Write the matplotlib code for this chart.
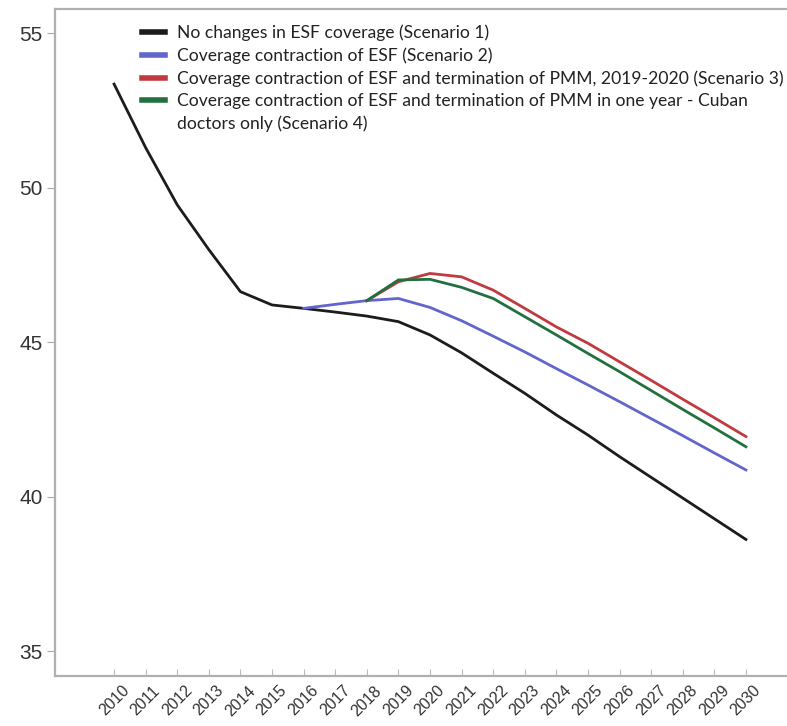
import numpy as np
import matplotlib
matplotlib.use("Agg")
import matplotlib.pyplot as plt
from matplotlib.lines import Line2D

# ── data ─────────────────────────────────────────────────────────────────────
years_s1 = list(range(2010, 2031))
years_s2 = list(range(2016, 2031))
years_s34 = list(range(2018, 2031))

scenario1 = [53.36, 51.30, 49.45, 48.00, 46.64, 46.21, 46.10, 45.98, 45.85, 45.67,
             45.24, 44.66, 44.00, 43.35, 42.65, 42.00, 41.30, 40.63, 39.96, 39.29, 38.62]
scenario2 = [46.10, 46.23, 46.35, 46.42, 46.13, 45.70, 45.20, 44.69, 44.15, 43.62,
             43.08, 42.53, 41.98, 41.42, 40.87]
scenario3 = [46.35, 46.96, 47.23, 47.12, 46.69, 46.10, 45.50, 44.97, 44.37, 43.77,
             43.16, 42.56, 41.95]
scenario4 = [46.35, 47.02, 47.04, 46.78, 46.42, 45.83, 45.24, 44.64, 44.05, 43.44,
             42.83, 42.23, 41.62]

labels = [
    "No changes in ESF coverage (Scenario 1)",
    "Coverage contraction of ESF (Scenario 2)",
    "Coverage contraction of ESF and termination of PMM, 2019-2020 (Scenario 3)",
    "Coverage contraction of ESF and termination of PMM in one year - Cuban",
]
label_cont = "doctors only (Scenario 4)"
colors = ["#1c1c1c", "#6266cc", "#c03a40", "#23703f"]

# ── plot ─────────────────────────────────────────────────────────────────────
fig = plt.figure(figsize=(7.87, 7.26), dpi=100)
ax = fig.add_axes([55 / 787, 50 / 726, 732 / 787, 667 / 726])

series = [(years_s1, scenario1), (years_s2, scenario2),
          (years_s34, scenario3), (years_s34, scenario4)]
for (x, y), c in zip(series, colors):
    ax.plot(x, y, color=c, linewidth=2.0, solid_joinstyle="round")

ax.set_xlim(2008.13, 2031.3)
ax.set_ylim(34.2, 55.79)
ax.set_xticks(years_s1)
ax.set_xticklabels([str(y) for y in years_s1], rotation=45, ha="center",
                   fontsize=11.5, color="#333333", family="Liberation Sans")
ax.set_yticks([35, 40, 45, 50, 55])
ax.set_yticklabels(["35", "40", "45", "50", "55"], fontsize=15, color="#333333",
                   family="Liberation Sans")

ax.tick_params(axis="y", direction="out", length=6, color="#aaaaaa", width=0.8, pad=3)
ax.tick_params(axis="x", direction="in", length=5, color="#bbbbbb", width=0.8, pad=5)
for side in ["left", "bottom", "top"]:
    ax.spines[side].set_color("#b0b0b0")
    ax.spines[side].set_linewidth(1.6)
ax.spines["right"].set_visible(False)

handles = [Line2D([], [], color=c, linewidth=4) for c in colors]
handles.append(Line2D([], [], color="none", linewidth=0))
leg = ax.legend(handles, labels + [label_cont], loc="upper left",
                bbox_to_anchor=(0.098, 1.0), frameon=False,
                handlelength=1.3, handletextpad=0.7, labelspacing=0.36,
                prop={"family": "Lato", "size": 12.6})
for t in leg.get_texts():
    t.set_color("#222222")

fig.savefig("out.png", dpi=100)
